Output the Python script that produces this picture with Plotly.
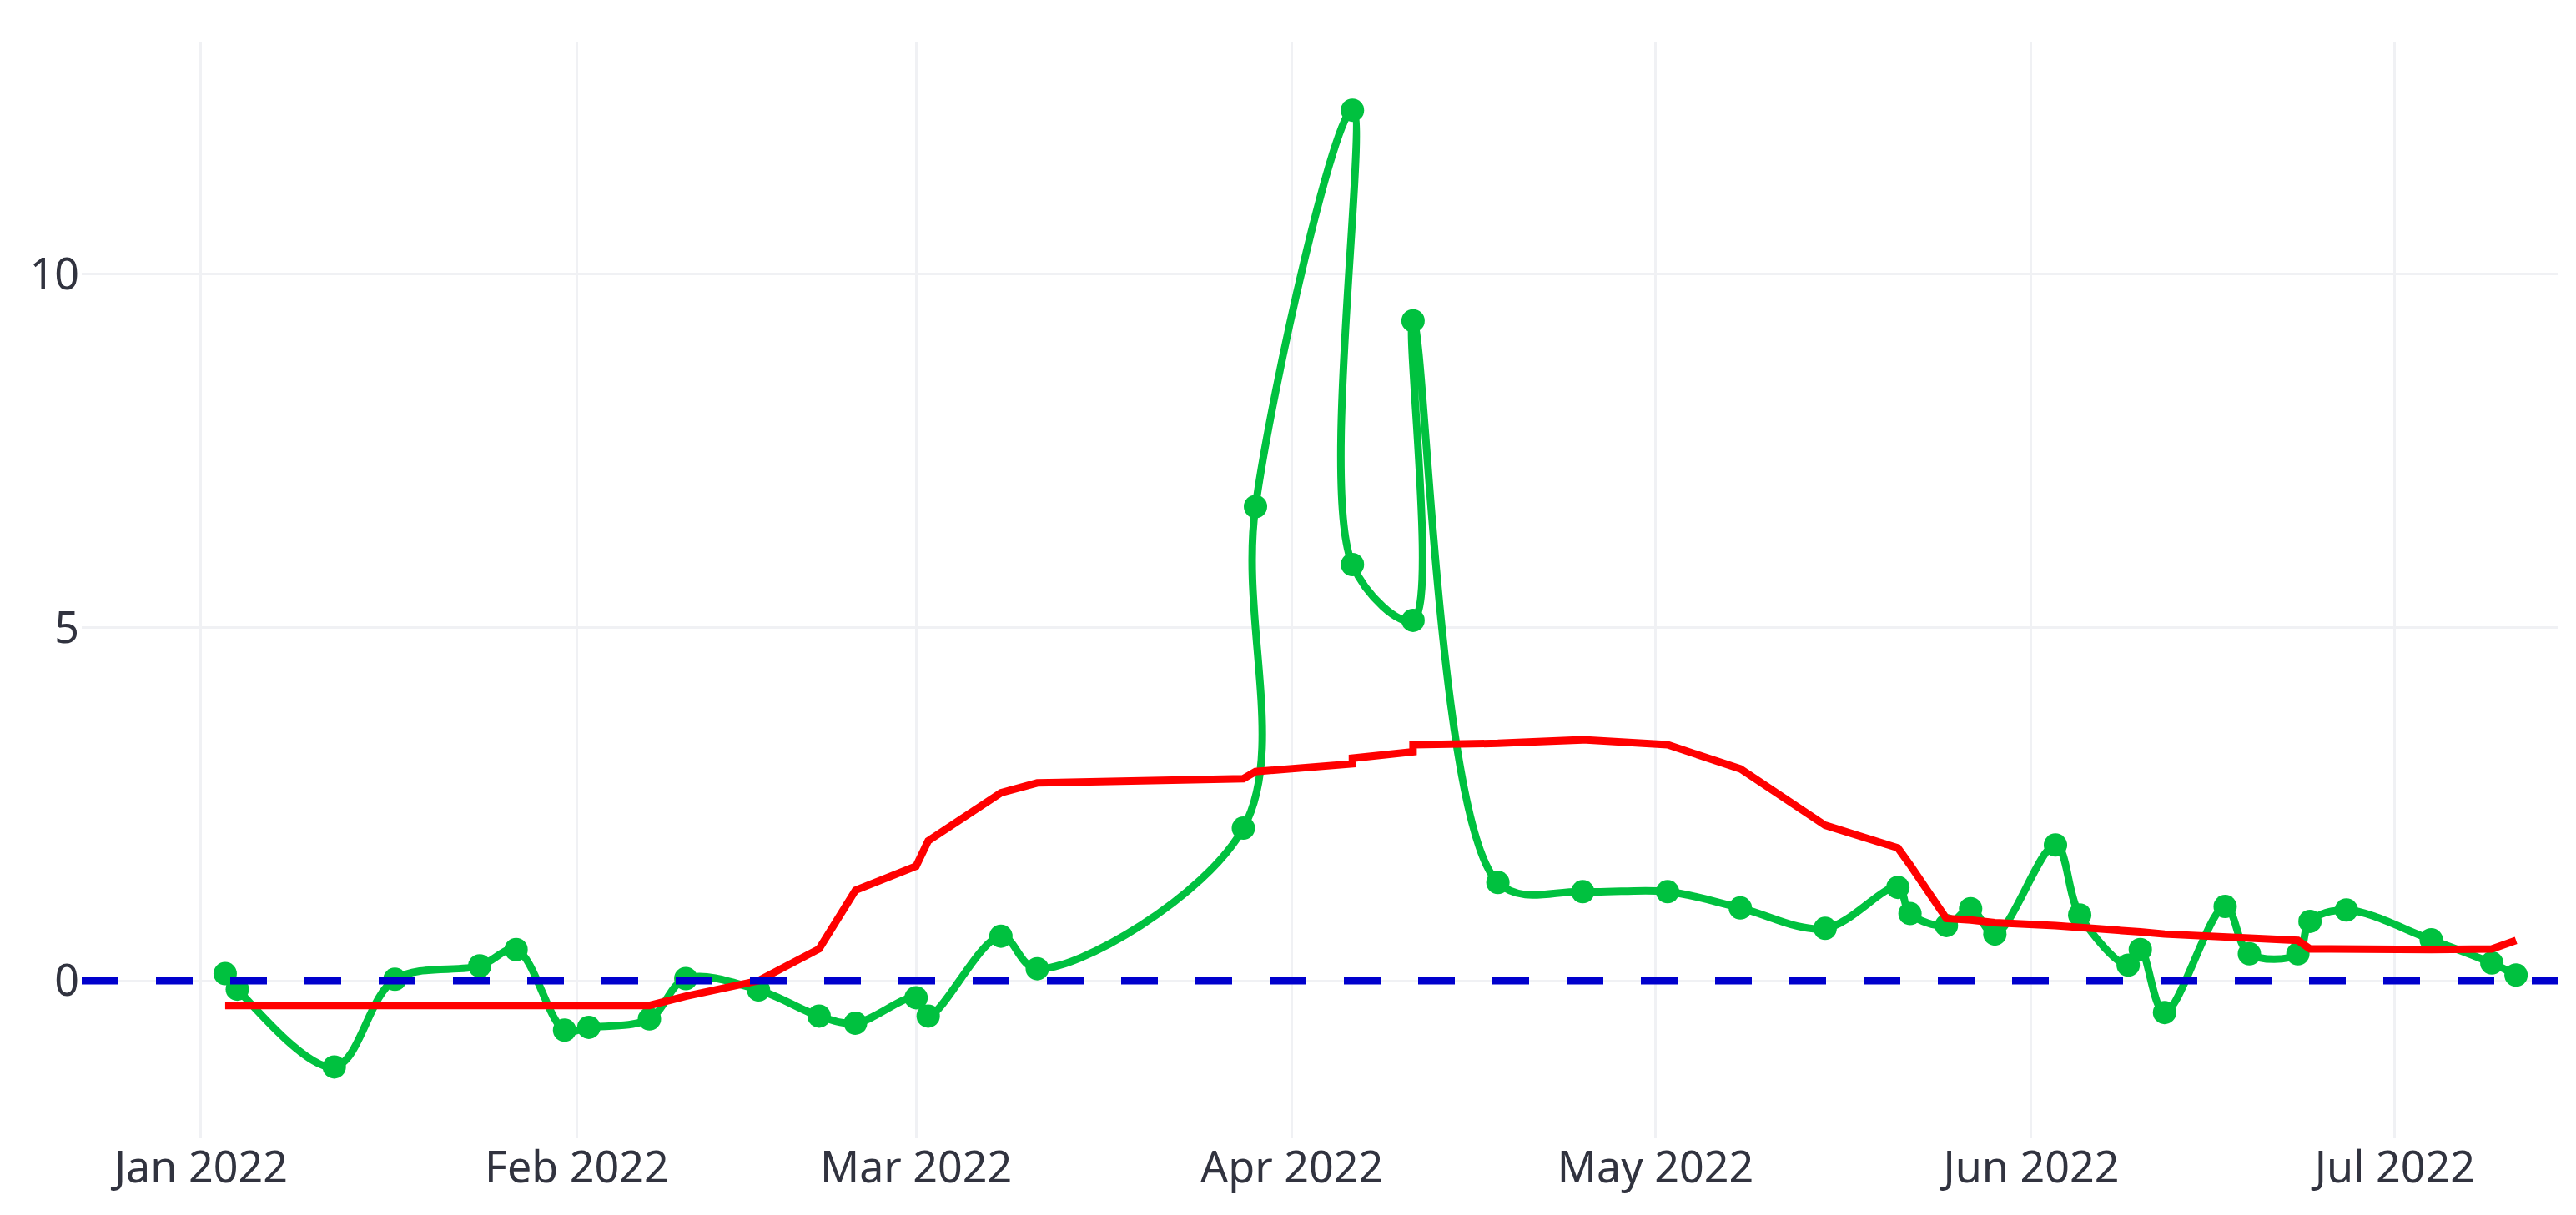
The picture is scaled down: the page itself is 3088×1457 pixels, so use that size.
import plotly.graph_objects as go

# ── data ──
dates = [
    "2022-01-03", "2022-01-04", "2022-01-12", "2022-01-17", "2022-01-24",
    "2022-01-27", "2022-01-31", "2022-02-02", "2022-02-07", "2022-02-10",
    "2022-02-16", "2022-02-21", "2022-02-24", "2022-03-01", "2022-03-02",
    "2022-03-08", "2022-03-11", "2022-03-28", "2022-03-29", "2022-04-06",
    "2022-04-06", "2022-04-11", "2022-04-11", "2022-04-18", "2022-04-25",
    "2022-05-02", "2022-05-08", "2022-05-15", "2022-05-21", "2022-05-22",
    "2022-05-25", "2022-05-27", "2022-05-29", "2022-06-03", "2022-06-05",
    "2022-06-09", "2022-06-10", "2022-06-12", "2022-06-17", "2022-06-19",
    "2022-06-23", "2022-06-24", "2022-06-27", "2022-07-04", "2022-07-09",
    "2022-07-11",
]

values = [
    0.10, -0.12, -1.22, 0.02, 0.21,
    0.44, -0.70, -0.66, -0.54, 0.03,
    -0.13, -0.50, -0.60, -0.24, -0.50,
    0.63, 0.17, 2.16, 6.71, 12.32,
    5.89, 5.10, 9.34, 1.39, 1.26,
    1.26, 1.03, 0.74, 1.32, 0.95,
    0.78, 1.02, 0.66, 1.92, 0.93,
    0.22, 0.44, -0.45, 1.05, 0.38,
    0.38, 0.84, 1.00, 0.58, 0.25,
    0.08,
]

rolling = [
    -0.35, -0.35, -0.34, -0.34, -0.35,
    -0.35, -0.36, -0.36, -0.35, -0.22,
    0.00, 0.45, 1.28, 1.62, 1.98,
    2.66, 2.80, 2.86, 2.96, 3.07,
    3.15, 3.24, 3.34, 3.36, 3.41,
    3.34, 3.00, 2.20, 1.88, 1.64,
    0.88, 0.86, 0.82, 0.78, 0.76,
    0.71, 0.69, 0.66, 0.61, 0.59,
    0.57, 0.45, 0.44, 0.44, 0.45,
    0.57,
]

baseline = 0

GREEN = "#00C13F"
TEXT = "#31333F"
GRID = "#F0F1F4"

fig = go.Figure()

fig.add_trace(go.Scatter(
    x=dates, y=values,
    mode="lines+markers",
    line=dict(color=GREEN, width=9, shape="spline", smoothing=1),
    marker=dict(color=GREEN, size=28),
    showlegend=False,
))

fig.add_trace(go.Scatter(
    x=dates, y=rolling,
    mode="lines",
    line=dict(color="red", width=9),
    showlegend=False,
))

# 零基准线（虚线）
fig.add_hline(y=baseline, line=dict(color="mediumblue", width=9, dash="44px,45px"))

fig.update_layout(
    width=3088,
    height=1457,
    template="plotly_white",
    plot_bgcolor="white",
    paper_bgcolor="white",
    margin=dict(l=90, r=29, t=42, b=100),
    font=dict(family="Noto Sans", size=52, color=TEXT),
    xaxis=dict(
        range=["2021-12-22 04:00", "2022-07-14 12:00"],
        dtick="M1",
        tickformat="%b %Y",
        showgrid=True, gridcolor=GRID, gridwidth=3,
        zeroline=False, showline=False,
        tickfont=dict(size=52, color=TEXT),
    ),
    yaxis=dict(
        range=[-2.23, 13.29],
        tickvals=[0, 5, 10],
        showgrid=True, gridcolor=GRID, gridwidth=3,
        zeroline=False, showline=False,
        ticklabelstandoff=2,
        tickfont=dict(size=52, color=TEXT),
    ),
)

fig.write_html("out.html")
